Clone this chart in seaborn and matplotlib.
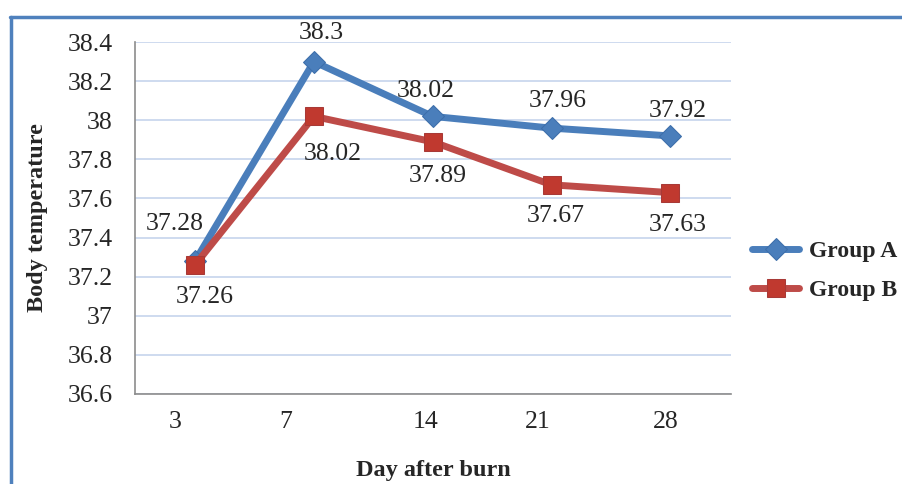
import matplotlib
matplotlib.use("Agg")
import matplotlib.pyplot as plt
from matplotlib.lines import Line2D
import seaborn as sns
import pandas as pd

days = ["3", "7", "14", "21", "28"]
group_a = [37.28, 38.3, 38.02, 37.96, 37.92]
group_b = [37.26, 38.02, 37.89, 37.67, 37.63]
y_ticks = [36.6, 36.8, 37.0, 37.2, 37.4, 37.6, 37.8, 38.0, 38.2, 38.4]
y_tick_labels = ["36.6", "36.8", "37", "37.2", "37.4", "37.6", "37.8", "38", "38.2", "38.4"]

sns.set_theme(style="white")
plt.rcParams['font.family'] = ['Liberation Serif', 'DejaVu Serif']

fig = plt.figure(figsize=(9.03, 4.84), dpi=100)
ax = fig.add_axes([0.1495, 0.186, 0.66, 0.727])

idx = list(range(len(days)))
df = pd.DataFrame({"x": idx * 2,
                   "y": group_a + group_b,
                   "g": ["Group A"] * len(days) + ["Group B"] * len(days)})

blue = "#4A7EBB"
red = "#BE4B48"
sns.lineplot(data=df[df.g == "Group A"], x="x", y="y", ax=ax, color=blue, lw=5,
             marker="D", markersize=11, markeredgecolor="#3D6EAA", label="Group A",
             zorder=3)
sns.lineplot(data=df[df.g == "Group B"], x="x", y="y", ax=ax, color=red, lw=5,
             marker="s", markersize=13, markeredgecolor="#A83A37",
             markerfacecolor="#C0392F", label="Group B", zorder=3)

ax.set_xlim(-0.505, 4.51)
ax.set_ylim(36.6, 38.4)
ax.set_yticks(y_ticks)
ax.set_yticklabels(y_tick_labels, fontsize=18.5)
label_shift = [-0.17, -0.24, -0.06, -0.12, -0.04]
ax.set_xticks([i + s for i, s in zip(idx, label_shift)])
ax.set_xticklabels(days, fontsize=18.5)
ax.tick_params(axis="both", length=0)
ax.tick_params(axis="x", pad=12)
ax.tick_params(axis="y", pad=16)
ax.grid(axis="y", color="#C6D4EC", lw=1.2)
ax.set_axisbelow(True)
for s in ["top", "right"]:
    ax.spines[s].set_visible(False)
for s in ["left", "bottom"]:
    ax.spines[s].set_color("#8C8C8C")
    ax.spines[s].set_linewidth(1.2)

ax.set_xlabel("Day after burn", fontsize=17.5, fontweight="bold", labelpad=20)
ax.set_ylabel("Body temperature", fontsize=17.5, fontweight="bold", labelpad=14)

# data labels (offsets in pixels -> points)
k = 0.72
a_off = [(-20, 37), (7, 29), (-7, 25), (6, 27), (7, 25)]
b_off = [(10, -32), (19, -38), (5, -34), (4, -31), (7, -32)]
for i, v in enumerate(group_a):
    dx, dy = a_off[i]
    ax.annotate(f"{v:g}", (i, v), xytext=(dx * k, dy * k), textcoords="offset points",
                ha="center", va="center", fontsize=18.5)
for i, v in enumerate(group_b):
    dx, dy = b_off[i]
    ax.annotate(f"{v:g}", (i, v), xytext=(dx * k, dy * k), textcoords="offset points",
                ha="center", va="center", fontsize=18.5)

leg = ax.legend(loc="center left", bbox_to_anchor=(1.0, 0.35), frameon=False,
                prop={"weight": "bold", "size": 17}, handlelength=2.0,
                labelspacing=0.75, handletextpad=0.4)

# blue frame
fig.add_artist(Line2D([10 / 903, 1], [1 - 17 / 484, 1 - 17 / 484], color="#4F81BD",
                      lw=2.5, transform=fig.transFigure))
fig.add_artist(Line2D([11 / 903, 11 / 903], [0, 1 - 17 / 484], color="#4F81BD",
                      lw=2.5, transform=fig.transFigure))

fig.savefig("out.png", dpi=100)
